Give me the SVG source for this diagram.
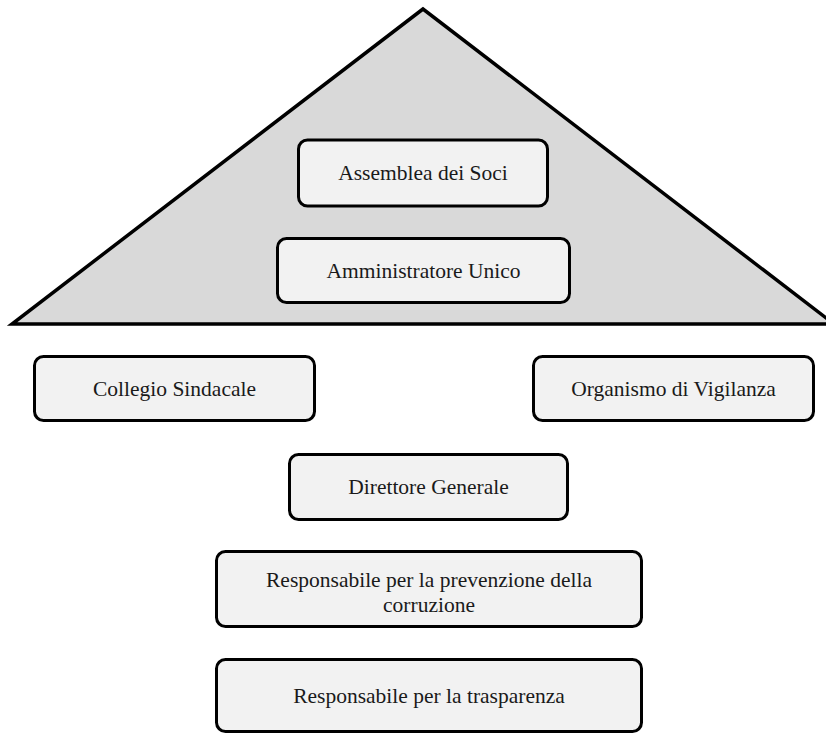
<svg xmlns="http://www.w3.org/2000/svg" width="826" height="736" viewBox="0 0 826 736">
<style>
.bg{fill:#ffffff}
.tri{fill:#d9d9d9;stroke:#000;stroke-width:3.5;stroke-linejoin:miter}
.box{fill:#f2f2f2;stroke:#000;stroke-width:3}
.lbl{font-size:21.5px;fill:#1a1a1a;text-anchor:middle;dominant-baseline:central}
</style>
<rect class="bg" x="0" y="0" width="826" height="736"/>
<g id="pyramid">
<polygon class="tri" points="423,9 12,324 834,324"/>
</g>
<g id="connectors"></g>
<g font-family="'Liberation Serif', 'Times New Roman', serif">
<g id="assemblea">
<rect class="box" x="298.5" y="140" width="249" height="66" rx="9"/>
<text class="lbl" x="423" y="173">Assemblea dei Soci</text>
</g>
<g id="amministratore">
<rect class="box" x="277.5" y="238.5" width="292" height="64" rx="9"/>
<text class="lbl" x="423.5" y="270.5">Amministratore Unico</text>
</g>
<g id="collegio">
<rect class="box" x="34.5" y="356.5" width="280" height="64" rx="9"/>
<text class="lbl" x="174.5" y="388.5">Collegio Sindacale</text>
</g>
<g id="organismo">
<rect class="box" x="533.5" y="356.5" width="280" height="64" rx="9"/>
<text class="lbl" x="673.5" y="388.5">Organismo di Vigilanza</text>
</g>
<g id="direttore">
<rect class="box" x="289.5" y="454.5" width="278" height="65" rx="9"/>
<text class="lbl" x="428.5" y="487">Direttore Generale</text>
</g>
<g id="resp-corruzione">
<rect class="box" x="216.5" y="551.5" width="425" height="75" rx="9"/>
<text class="lbl" x="429" y="580">Responsabile per la prevenzione della</text>
<text class="lbl" x="429" y="605">corruzione</text>
</g>
<g id="resp-trasparenza">
<rect class="box" x="216.5" y="659.5" width="425" height="72" rx="9"/>
<text class="lbl" x="429" y="695.5">Responsabile per la trasparenza</text>
</g>
</g>
</svg>
